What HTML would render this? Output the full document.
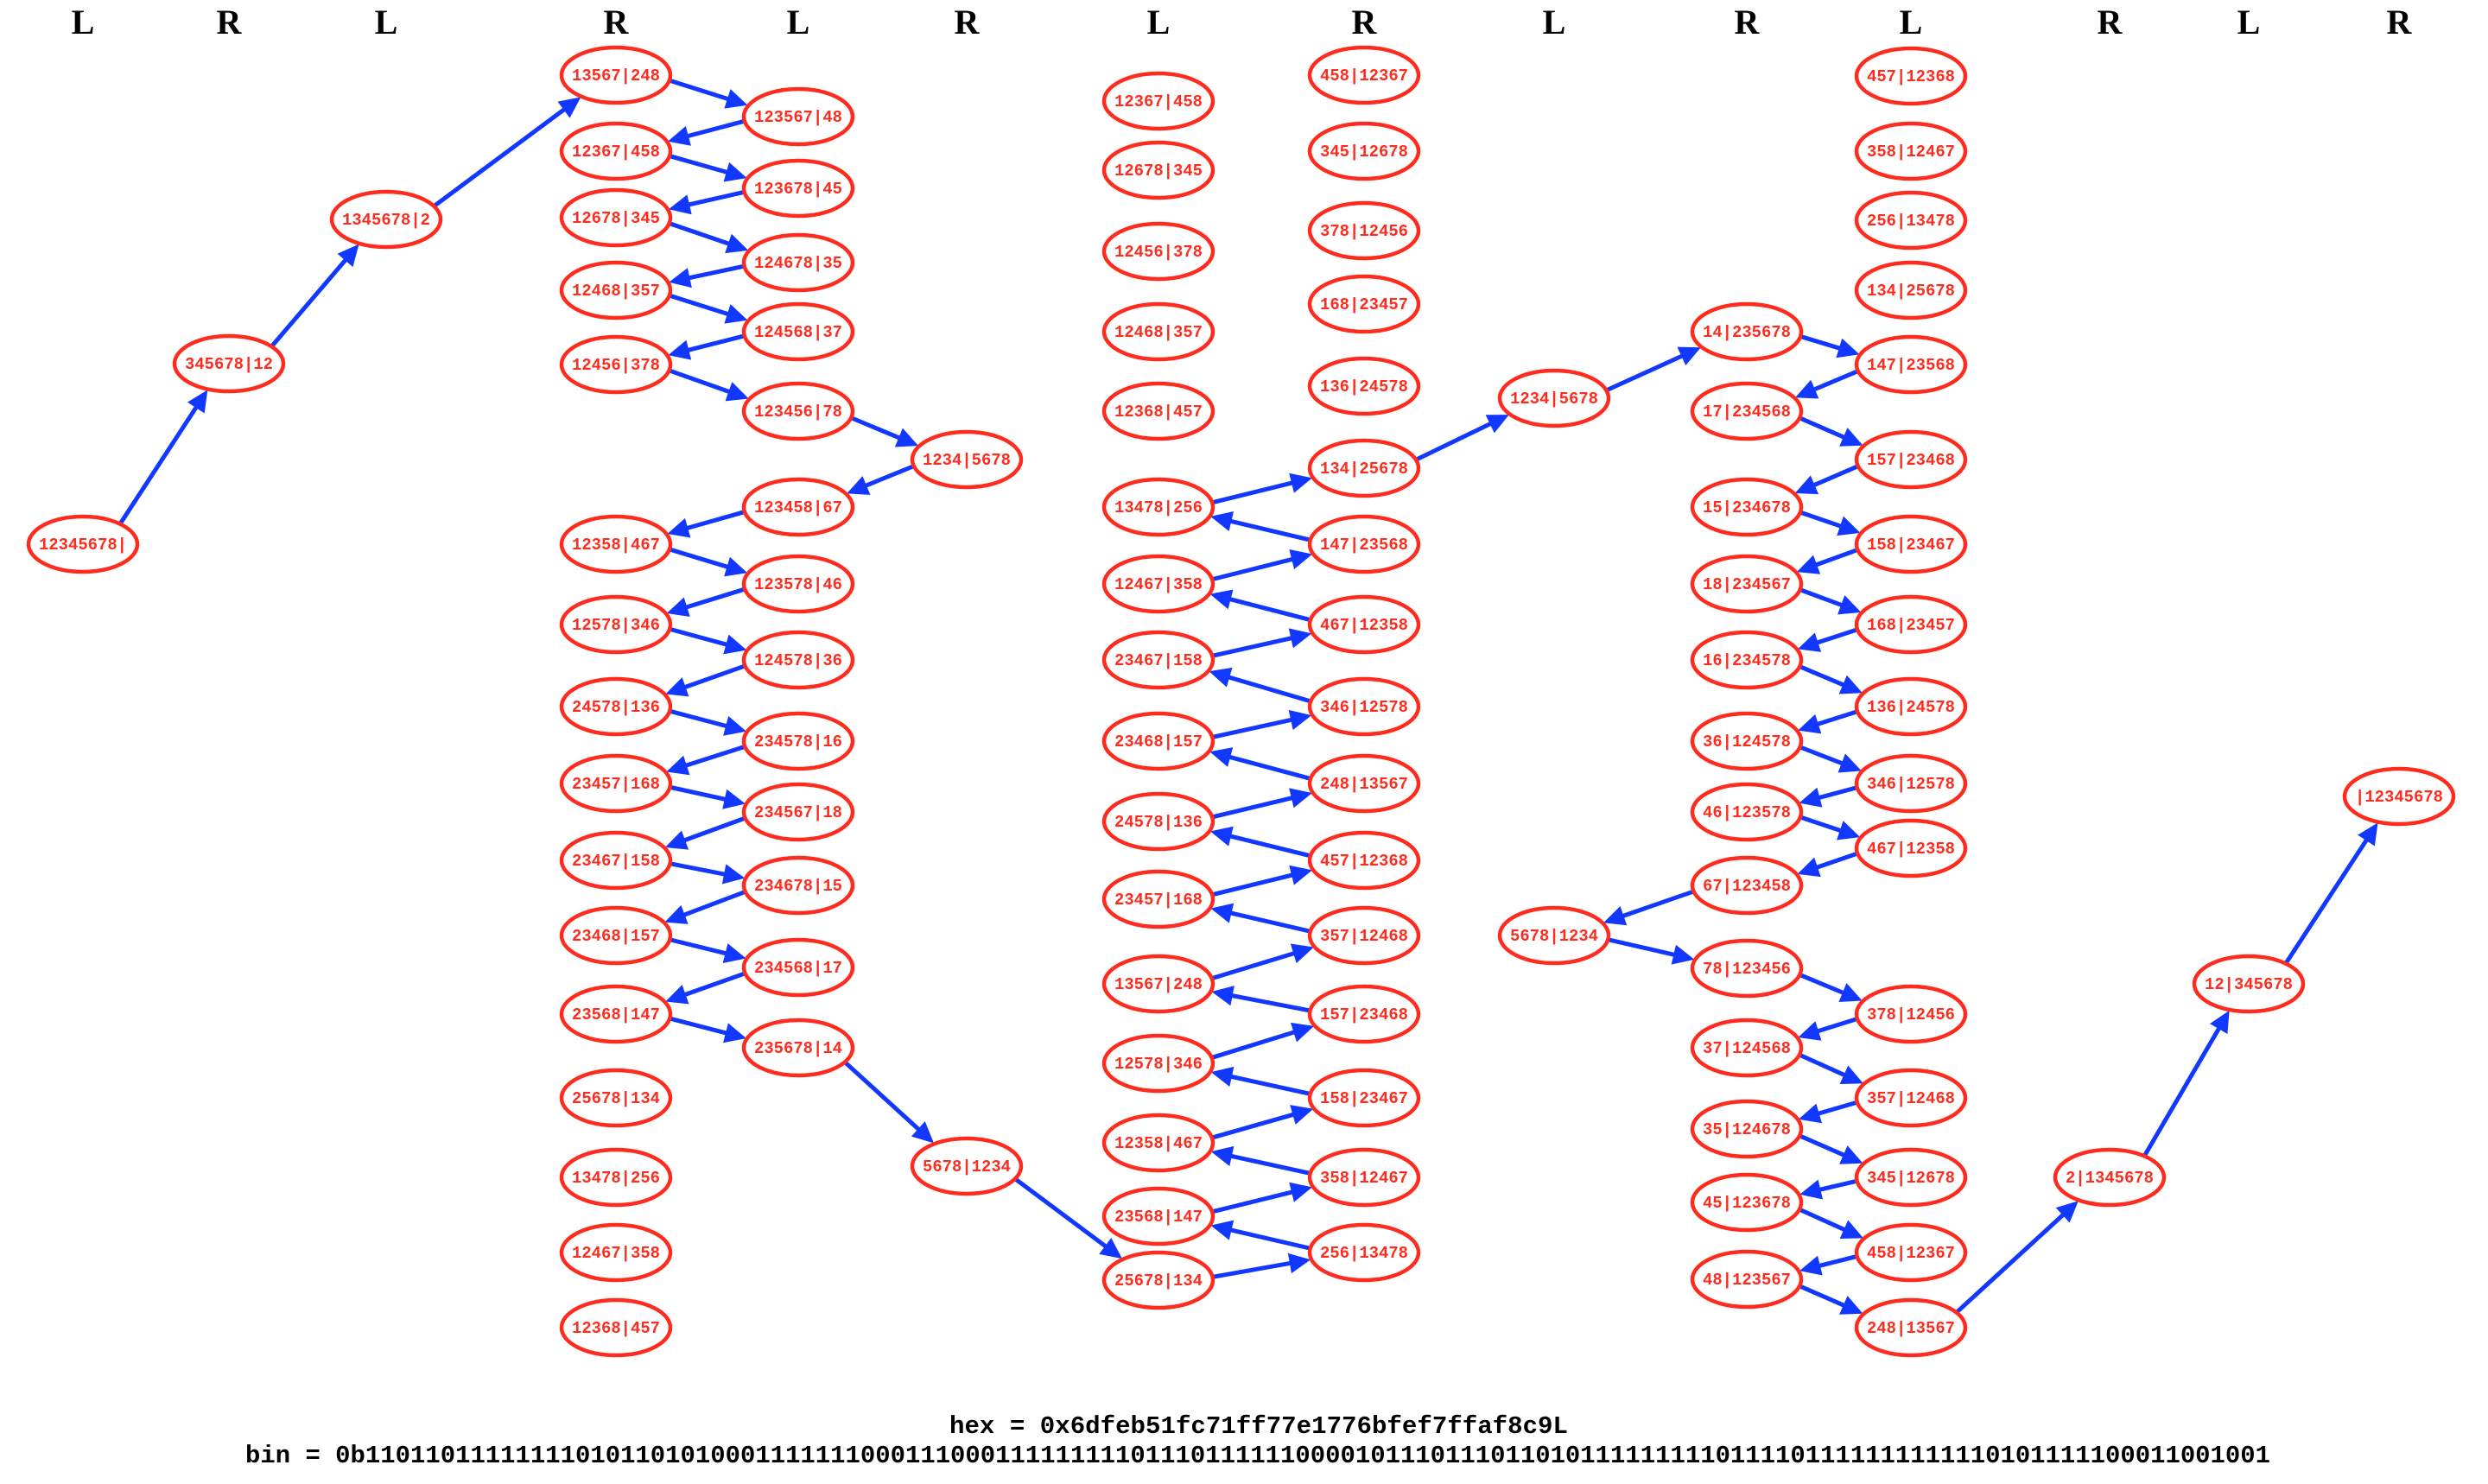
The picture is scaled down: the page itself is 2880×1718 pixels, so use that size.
<!DOCTYPE html>
<html>
<head>
<meta charset="utf-8">
<style>
  html,body{margin:0;padding:0;background:#ffffff;}
  svg{display:block;}
  .n ellipse{fill:none;stroke:#fe2c1e;stroke-width:4.5;}
  .n text{fill:#fe2c1e;font-family:"Liberation Mono","DejaVu Sans Mono",monospace;font-weight:bold;font-size:19px;text-anchor:middle;}
  .hdr text{fill:#000;font-family:"Liberation Serif","DejaVu Serif",serif;font-weight:bold;font-size:40px;text-anchor:middle;}
  .foot text{fill:#000;font-family:"Liberation Mono","DejaVu Sans Mono",monospace;font-weight:bold;font-size:29px;text-anchor:middle;}
  #edges line{stroke:#1238ff;stroke-width:5;}
  #edges polygon{fill:#1238ff;stroke:#1238ff;stroke-width:1;}
</style>
</head>
<body>
<svg id="svg" xmlns="http://www.w3.org/2000/svg" width="2880" height="1718" viewBox="0 0 2880 1718">
<rect x="0" y="0" width="2880" height="1718" fill="#ffffff"/>
<g class="hdr">
  <text x="96" y="39">L</text>
  <text x="265" y="39">R</text>
  <text x="447" y="39">L</text>
  <text x="713" y="39">R</text>
  <text x="924" y="39">L</text>
  <text x="1119" y="39">R</text>
  <text x="1341" y="39">L</text>
  <text x="1579" y="39">R</text>
  <text x="1799" y="39">L</text>
  <text x="2022" y="39">R</text>
  <text x="2212" y="39">L</text>
  <text x="2442" y="39">R</text>
  <text x="2603" y="39">L</text>
  <text x="2777" y="39">R</text>
</g>
<g id="edges"></g>
<g class="n" id="nodes">
  <ellipse id="A0" cx="96" cy="630" rx="63" ry="32"/><text x="96" y="636" textLength="102" lengthAdjust="spacingAndGlyphs">12345678|</text>
  <ellipse id="B0" cx="265" cy="421" rx="63" ry="32"/><text x="265" y="427" textLength="102" lengthAdjust="spacingAndGlyphs">345678|12</text>
  <ellipse id="C0" cx="447" cy="254" rx="63" ry="32"/><text x="447" y="260" textLength="102" lengthAdjust="spacingAndGlyphs">1345678|2</text>

  <ellipse id="D0" cx="713" cy="87" rx="63" ry="32"/><text x="713" y="93" textLength="102" lengthAdjust="spacingAndGlyphs">13567|248</text>
  <ellipse id="D1" cx="713" cy="175" rx="63" ry="32"/><text x="713" y="181" textLength="102" lengthAdjust="spacingAndGlyphs">12367|458</text>
  <ellipse id="D2" cx="713" cy="252" rx="63" ry="32"/><text x="713" y="258" textLength="102" lengthAdjust="spacingAndGlyphs">12678|345</text>
  <ellipse id="D3" cx="713" cy="336" rx="63" ry="32"/><text x="713" y="342" textLength="102" lengthAdjust="spacingAndGlyphs">12468|357</text>
  <ellipse id="D4" cx="713" cy="422" rx="63" ry="32"/><text x="713" y="428" textLength="102" lengthAdjust="spacingAndGlyphs">12456|378</text>
  <ellipse id="D5" cx="713" cy="630" rx="63" ry="32"/><text x="713" y="636" textLength="102" lengthAdjust="spacingAndGlyphs">12358|467</text>
  <ellipse id="D6" cx="713" cy="723" rx="63" ry="32"/><text x="713" y="729" textLength="102" lengthAdjust="spacingAndGlyphs">12578|346</text>
  <ellipse id="D7" cx="713" cy="818" rx="63" ry="32"/><text x="713" y="824" textLength="102" lengthAdjust="spacingAndGlyphs">24578|136</text>
  <ellipse id="D8" cx="713" cy="907" rx="63" ry="32"/><text x="713" y="913" textLength="102" lengthAdjust="spacingAndGlyphs">23457|168</text>
  <ellipse id="D9" cx="713" cy="996" rx="63" ry="32"/><text x="713" y="1002" textLength="102" lengthAdjust="spacingAndGlyphs">23467|158</text>
  <ellipse id="D10" cx="713" cy="1083" rx="63" ry="32"/><text x="713" y="1089" textLength="102" lengthAdjust="spacingAndGlyphs">23468|157</text>
  <ellipse id="D11" cx="713" cy="1174" rx="63" ry="32"/><text x="713" y="1180" textLength="102" lengthAdjust="spacingAndGlyphs">23568|147</text>
  <ellipse id="D12" cx="713" cy="1271" rx="63" ry="32"/><text x="713" y="1277" textLength="102" lengthAdjust="spacingAndGlyphs">25678|134</text>
  <ellipse id="D13" cx="713" cy="1363" rx="63" ry="32"/><text x="713" y="1369" textLength="102" lengthAdjust="spacingAndGlyphs">13478|256</text>
  <ellipse id="D14" cx="713" cy="1450" rx="63" ry="32"/><text x="713" y="1456" textLength="102" lengthAdjust="spacingAndGlyphs">12467|358</text>
  <ellipse id="D15" cx="713" cy="1537" rx="63" ry="32"/><text x="713" y="1543" textLength="102" lengthAdjust="spacingAndGlyphs">12368|457</text>

  <ellipse id="E0" cx="924" cy="135" rx="63" ry="32"/><text x="924" y="141" textLength="102" lengthAdjust="spacingAndGlyphs">123567|48</text>
  <ellipse id="E1" cx="924" cy="218" rx="63" ry="32"/><text x="924" y="224" textLength="102" lengthAdjust="spacingAndGlyphs">123678|45</text>
  <ellipse id="E2" cx="924" cy="304" rx="63" ry="32"/><text x="924" y="310" textLength="102" lengthAdjust="spacingAndGlyphs">124678|35</text>
  <ellipse id="E3" cx="924" cy="384" rx="63" ry="32"/><text x="924" y="390" textLength="102" lengthAdjust="spacingAndGlyphs">124568|37</text>
  <ellipse id="E4" cx="924" cy="476" rx="63" ry="32"/><text x="924" y="482" textLength="102" lengthAdjust="spacingAndGlyphs">123456|78</text>
  <ellipse id="E5" cx="924" cy="587" rx="63" ry="32"/><text x="924" y="593" textLength="102" lengthAdjust="spacingAndGlyphs">123458|67</text>
  <ellipse id="E6" cx="924" cy="676" rx="63" ry="32"/><text x="924" y="682" textLength="102" lengthAdjust="spacingAndGlyphs">123578|46</text>
  <ellipse id="E7" cx="924" cy="764" rx="63" ry="32"/><text x="924" y="770" textLength="102" lengthAdjust="spacingAndGlyphs">124578|36</text>
  <ellipse id="E8" cx="924" cy="858" rx="63" ry="32"/><text x="924" y="864" textLength="102" lengthAdjust="spacingAndGlyphs">234578|16</text>
  <ellipse id="E9" cx="924" cy="940" rx="63" ry="32"/><text x="924" y="946" textLength="102" lengthAdjust="spacingAndGlyphs">234567|18</text>
  <ellipse id="E10" cx="924" cy="1025" rx="63" ry="32"/><text x="924" y="1031" textLength="102" lengthAdjust="spacingAndGlyphs">234678|15</text>
  <ellipse id="E11" cx="924" cy="1120" rx="63" ry="32"/><text x="924" y="1126" textLength="102" lengthAdjust="spacingAndGlyphs">234568|17</text>
  <ellipse id="E12" cx="924" cy="1213" rx="63" ry="32"/><text x="924" y="1219" textLength="102" lengthAdjust="spacingAndGlyphs">235678|14</text>

  <ellipse id="F0" cx="1119" cy="532" rx="63" ry="32"/><text x="1119" y="538" textLength="102" lengthAdjust="spacingAndGlyphs">1234|5678</text>
  <ellipse id="F1" cx="1119" cy="1350" rx="63" ry="32"/><text x="1119" y="1356" textLength="102" lengthAdjust="spacingAndGlyphs">5678|1234</text>

  <ellipse id="G0" cx="1341" cy="117" rx="63" ry="32"/><text x="1341" y="123" textLength="102" lengthAdjust="spacingAndGlyphs">12367|458</text>
  <ellipse id="G1" cx="1341" cy="197" rx="63" ry="32"/><text x="1341" y="203" textLength="102" lengthAdjust="spacingAndGlyphs">12678|345</text>
  <ellipse id="G2" cx="1341" cy="291" rx="63" ry="32"/><text x="1341" y="297" textLength="102" lengthAdjust="spacingAndGlyphs">12456|378</text>
  <ellipse id="G3" cx="1341" cy="384" rx="63" ry="32"/><text x="1341" y="390" textLength="102" lengthAdjust="spacingAndGlyphs">12468|357</text>
  <ellipse id="G4" cx="1341" cy="476" rx="63" ry="32"/><text x="1341" y="482" textLength="102" lengthAdjust="spacingAndGlyphs">12368|457</text>
  <ellipse id="G5" cx="1341" cy="587" rx="63" ry="32"/><text x="1341" y="593" textLength="102" lengthAdjust="spacingAndGlyphs">13478|256</text>
  <ellipse id="G6" cx="1341" cy="676" rx="63" ry="32"/><text x="1341" y="682" textLength="102" lengthAdjust="spacingAndGlyphs">12467|358</text>
  <ellipse id="G7" cx="1341" cy="764" rx="63" ry="32"/><text x="1341" y="770" textLength="102" lengthAdjust="spacingAndGlyphs">23467|158</text>
  <ellipse id="G8" cx="1341" cy="858" rx="63" ry="32"/><text x="1341" y="864" textLength="102" lengthAdjust="spacingAndGlyphs">23468|157</text>
  <ellipse id="G9" cx="1341" cy="951" rx="63" ry="32"/><text x="1341" y="957" textLength="102" lengthAdjust="spacingAndGlyphs">24578|136</text>
  <ellipse id="G10" cx="1341" cy="1041" rx="63" ry="32"/><text x="1341" y="1047" textLength="102" lengthAdjust="spacingAndGlyphs">23457|168</text>
  <ellipse id="G11" cx="1341" cy="1139" rx="63" ry="32"/><text x="1341" y="1145" textLength="102" lengthAdjust="spacingAndGlyphs">13567|248</text>
  <ellipse id="G12" cx="1341" cy="1231" rx="63" ry="32"/><text x="1341" y="1237" textLength="102" lengthAdjust="spacingAndGlyphs">12578|346</text>
  <ellipse id="G13" cx="1341" cy="1323" rx="63" ry="32"/><text x="1341" y="1329" textLength="102" lengthAdjust="spacingAndGlyphs">12358|467</text>
  <ellipse id="G14" cx="1341" cy="1408" rx="63" ry="32"/><text x="1341" y="1414" textLength="102" lengthAdjust="spacingAndGlyphs">23568|147</text>
  <ellipse id="G15" cx="1341" cy="1482" rx="63" ry="32"/><text x="1341" y="1488" textLength="102" lengthAdjust="spacingAndGlyphs">25678|134</text>

  <ellipse id="H0" cx="1579" cy="87" rx="63" ry="32"/><text x="1579" y="93" textLength="102" lengthAdjust="spacingAndGlyphs">458|12367</text>
  <ellipse id="H1" cx="1579" cy="175" rx="63" ry="32"/><text x="1579" y="181" textLength="102" lengthAdjust="spacingAndGlyphs">345|12678</text>
  <ellipse id="H2" cx="1579" cy="267" rx="63" ry="32"/><text x="1579" y="273" textLength="102" lengthAdjust="spacingAndGlyphs">378|12456</text>
  <ellipse id="H3" cx="1579" cy="352" rx="63" ry="32"/><text x="1579" y="358" textLength="102" lengthAdjust="spacingAndGlyphs">168|23457</text>
  <ellipse id="H4" cx="1579" cy="447" rx="63" ry="32"/><text x="1579" y="453" textLength="102" lengthAdjust="spacingAndGlyphs">136|24578</text>
  <ellipse id="H5" cx="1579" cy="542" rx="63" ry="32"/><text x="1579" y="548" textLength="102" lengthAdjust="spacingAndGlyphs">134|25678</text>
  <ellipse id="H6" cx="1579" cy="630" rx="63" ry="32"/><text x="1579" y="636" textLength="102" lengthAdjust="spacingAndGlyphs">147|23568</text>
  <ellipse id="H7" cx="1579" cy="723" rx="63" ry="32"/><text x="1579" y="729" textLength="102" lengthAdjust="spacingAndGlyphs">467|12358</text>
  <ellipse id="H8" cx="1579" cy="818" rx="63" ry="32"/><text x="1579" y="824" textLength="102" lengthAdjust="spacingAndGlyphs">346|12578</text>
  <ellipse id="H9" cx="1579" cy="907" rx="63" ry="32"/><text x="1579" y="913" textLength="102" lengthAdjust="spacingAndGlyphs">248|13567</text>
  <ellipse id="H10" cx="1579" cy="996" rx="63" ry="32"/><text x="1579" y="1002" textLength="102" lengthAdjust="spacingAndGlyphs">457|12368</text>
  <ellipse id="H11" cx="1579" cy="1083" rx="63" ry="32"/><text x="1579" y="1089" textLength="102" lengthAdjust="spacingAndGlyphs">357|12468</text>
  <ellipse id="H12" cx="1579" cy="1174" rx="63" ry="32"/><text x="1579" y="1180" textLength="102" lengthAdjust="spacingAndGlyphs">157|23468</text>
  <ellipse id="H13" cx="1579" cy="1271" rx="63" ry="32"/><text x="1579" y="1277" textLength="102" lengthAdjust="spacingAndGlyphs">158|23467</text>
  <ellipse id="H14" cx="1579" cy="1363" rx="63" ry="32"/><text x="1579" y="1369" textLength="102" lengthAdjust="spacingAndGlyphs">358|12467</text>
  <ellipse id="H15" cx="1579" cy="1450" rx="63" ry="32"/><text x="1579" y="1456" textLength="102" lengthAdjust="spacingAndGlyphs">256|13478</text>

  <ellipse id="I0" cx="1799" cy="461" rx="63" ry="32"/><text x="1799" y="467" textLength="102" lengthAdjust="spacingAndGlyphs">1234|5678</text>
  <ellipse id="I1" cx="1799" cy="1083" rx="63" ry="32"/><text x="1799" y="1089" textLength="102" lengthAdjust="spacingAndGlyphs">5678|1234</text>

  <ellipse id="J0" cx="2022" cy="384" rx="63" ry="32"/><text x="2022" y="390" textLength="102" lengthAdjust="spacingAndGlyphs">14|235678</text>
  <ellipse id="J1" cx="2022" cy="476" rx="63" ry="32"/><text x="2022" y="482" textLength="102" lengthAdjust="spacingAndGlyphs">17|234568</text>
  <ellipse id="J2" cx="2022" cy="587" rx="63" ry="32"/><text x="2022" y="593" textLength="102" lengthAdjust="spacingAndGlyphs">15|234678</text>
  <ellipse id="J3" cx="2022" cy="676" rx="63" ry="32"/><text x="2022" y="682" textLength="102" lengthAdjust="spacingAndGlyphs">18|234567</text>
  <ellipse id="J4" cx="2022" cy="764" rx="63" ry="32"/><text x="2022" y="770" textLength="102" lengthAdjust="spacingAndGlyphs">16|234578</text>
  <ellipse id="J5" cx="2022" cy="858" rx="63" ry="32"/><text x="2022" y="864" textLength="102" lengthAdjust="spacingAndGlyphs">36|124578</text>
  <ellipse id="J6" cx="2022" cy="940" rx="63" ry="32"/><text x="2022" y="946" textLength="102" lengthAdjust="spacingAndGlyphs">46|123578</text>
  <ellipse id="J7" cx="2022" cy="1025" rx="63" ry="32"/><text x="2022" y="1031" textLength="102" lengthAdjust="spacingAndGlyphs">67|123458</text>
  <ellipse id="J8" cx="2022" cy="1121" rx="63" ry="32"/><text x="2022" y="1127" textLength="102" lengthAdjust="spacingAndGlyphs">78|123456</text>
  <ellipse id="J9" cx="2022" cy="1213" rx="63" ry="32"/><text x="2022" y="1219" textLength="102" lengthAdjust="spacingAndGlyphs">37|124568</text>
  <ellipse id="J10" cx="2022" cy="1307" rx="63" ry="32"/><text x="2022" y="1313" textLength="102" lengthAdjust="spacingAndGlyphs">35|124678</text>
  <ellipse id="J11" cx="2022" cy="1392" rx="63" ry="32"/><text x="2022" y="1398" textLength="102" lengthAdjust="spacingAndGlyphs">45|123678</text>
  <ellipse id="J12" cx="2022" cy="1481" rx="63" ry="32"/><text x="2022" y="1487" textLength="102" lengthAdjust="spacingAndGlyphs">48|123567</text>

  <ellipse id="K0" cx="2212" cy="88" rx="63" ry="32"/><text x="2212" y="94" textLength="102" lengthAdjust="spacingAndGlyphs">457|12368</text>
  <ellipse id="K1" cx="2212" cy="175" rx="63" ry="32"/><text x="2212" y="181" textLength="102" lengthAdjust="spacingAndGlyphs">358|12467</text>
  <ellipse id="K2" cx="2212" cy="255" rx="63" ry="32"/><text x="2212" y="261" textLength="102" lengthAdjust="spacingAndGlyphs">256|13478</text>
  <ellipse id="K3" cx="2212" cy="336" rx="63" ry="32"/><text x="2212" y="342" textLength="102" lengthAdjust="spacingAndGlyphs">134|25678</text>
  <ellipse id="K4" cx="2212" cy="422" rx="63" ry="32"/><text x="2212" y="428" textLength="102" lengthAdjust="spacingAndGlyphs">147|23568</text>
  <ellipse id="K5" cx="2212" cy="532" rx="63" ry="32"/><text x="2212" y="538" textLength="102" lengthAdjust="spacingAndGlyphs">157|23468</text>
  <ellipse id="K6" cx="2212" cy="630" rx="63" ry="32"/><text x="2212" y="636" textLength="102" lengthAdjust="spacingAndGlyphs">158|23467</text>
  <ellipse id="K7" cx="2212" cy="723" rx="63" ry="32"/><text x="2212" y="729" textLength="102" lengthAdjust="spacingAndGlyphs">168|23457</text>
  <ellipse id="K8" cx="2212" cy="818" rx="63" ry="32"/><text x="2212" y="824" textLength="102" lengthAdjust="spacingAndGlyphs">136|24578</text>
  <ellipse id="K9" cx="2212" cy="907" rx="63" ry="32"/><text x="2212" y="913" textLength="102" lengthAdjust="spacingAndGlyphs">346|12578</text>
  <ellipse id="K10" cx="2212" cy="982" rx="63" ry="32"/><text x="2212" y="988" textLength="102" lengthAdjust="spacingAndGlyphs">467|12358</text>
  <ellipse id="K11" cx="2212" cy="1174" rx="63" ry="32"/><text x="2212" y="1180" textLength="102" lengthAdjust="spacingAndGlyphs">378|12456</text>
  <ellipse id="K12" cx="2212" cy="1271" rx="63" ry="32"/><text x="2212" y="1277" textLength="102" lengthAdjust="spacingAndGlyphs">357|12468</text>
  <ellipse id="K13" cx="2212" cy="1363" rx="63" ry="32"/><text x="2212" y="1369" textLength="102" lengthAdjust="spacingAndGlyphs">345|12678</text>
  <ellipse id="K14" cx="2212" cy="1450" rx="63" ry="32"/><text x="2212" y="1456" textLength="102" lengthAdjust="spacingAndGlyphs">458|12367</text>
  <ellipse id="K15" cx="2212" cy="1537" rx="63" ry="32"/><text x="2212" y="1543" textLength="102" lengthAdjust="spacingAndGlyphs">248|13567</text>

  <ellipse id="L0" cx="2442" cy="1363" rx="63" ry="32"/><text x="2442" y="1369" textLength="102" lengthAdjust="spacingAndGlyphs">2|1345678</text>
  <ellipse id="M0" cx="2603" cy="1139" rx="63" ry="32"/><text x="2603" y="1145" textLength="102" lengthAdjust="spacingAndGlyphs">12|345678</text>
  <ellipse id="N0" cx="2777" cy="922" rx="63" ry="32"/><text x="2777" y="928" textLength="102" lengthAdjust="spacingAndGlyphs">|12345678</text>
</g>
<g class="foot">
  <text x="1457" y="1659" textLength="716" lengthAdjust="spacingAndGlyphs">hex = 0x6dfeb51fc71ff77e1776bfef7ffaf8c9L</text>
  <text x="1456" y="1693" textLength="2344" lengthAdjust="spacingAndGlyphs">bin = 0b1101101111111101011010100011111110001110001111111110111011111100001011101110110101111111110111101111111111110101111100011001001</text>
</g>
</svg>
<script>
(function(){
  var E = "A0>B0 B0>C0 C0>D0 D0>E0 E0>D1 D1>E1 E1>D2 D2>E2 E2>D3 D3>E3 E3>D4 D4>E4 E4>F0 F0>E5 E5>D5 D5>E6 E6>D6 D6>E7 E7>D7 D7>E8 E8>D8 D8>E9 E9>D9 D9>E10 E10>D10 D10>E11 E11>D11 D11>E12 E12>F1 F1>G15 G15>H15 H15>G14 G14>H14 H14>G13 G13>H13 H13>G12 G12>H12 H12>G11 G11>H11 H11>G10 G10>H10 H10>G9 G9>H9 H9>G8 G8>H8 H8>G7 G7>H7 H7>G6 G6>H6 H6>G5 G5>H5 H5>I0 I0>J0 J0>K4 K4>J1 J1>K5 K5>J2 J2>K6 K6>J3 J3>K7 K7>J4 J4>K8 K8>J5 J5>K9 K9>J6 J6>K10 K10>J7 J7>I1 I1>J8 J8>K11 K11>J9 J9>K12 K12>J10 J10>K13 K13>J11 J11>K14 K14>J12 J12>K15 K15>L0 L0>M0 M0>N0";
  var NS = "http://www.w3.org/2000/svg";
  var g = document.getElementById("edges");
  function pos(id){var e=document.getElementById(id);return [parseFloat(e.getAttribute("cx")),parseFloat(e.getAttribute("cy"))];}
  function clip(c,dx,dy,rx,ry){var t=1/Math.sqrt((dx/rx)*(dx/rx)+(dy/ry)*(dy/ry));return [c[0]+dx*t,c[1]+dy*t];}
  E.split(" ").forEach(function(p){
    var ab=p.split(">"), s=pos(ab[0]), t=pos(ab[1]);
    var dx=t[0]-s[0], dy=t[1]-s[1];
    var a=clip(s,dx,dy*0.45,64,33);
    var tip=clip(t,-dx,-dy,65,34);
    var vx=tip[0]-a[0], vy=tip[1]-a[1], L=Math.sqrt(vx*vx+vy*vy);
    var ux=vx/L, uy=vy/L, px=-uy, py=ux;
    var AL=23, AW=11;
    var bx=tip[0]-ux*AL, by=tip[1]-uy*AL;
    var ln=document.createElementNS(NS,"line");
    ln.setAttribute("x1",a[0].toFixed(1));ln.setAttribute("y1",a[1].toFixed(1));
    ln.setAttribute("x2",(bx+ux*2).toFixed(1));ln.setAttribute("y2",(by+uy*2).toFixed(1));
    g.appendChild(ln);
    var pg=document.createElementNS(NS,"polygon");
    pg.setAttribute("points",tip[0].toFixed(1)+","+tip[1].toFixed(1)+" "+(bx+px*AW).toFixed(1)+","+(by+py*AW).toFixed(1)+" "+(bx-px*AW).toFixed(1)+","+(by-py*AW).toFixed(1));
    g.appendChild(pg);
  });
})();
</script>
</body>
</html>
